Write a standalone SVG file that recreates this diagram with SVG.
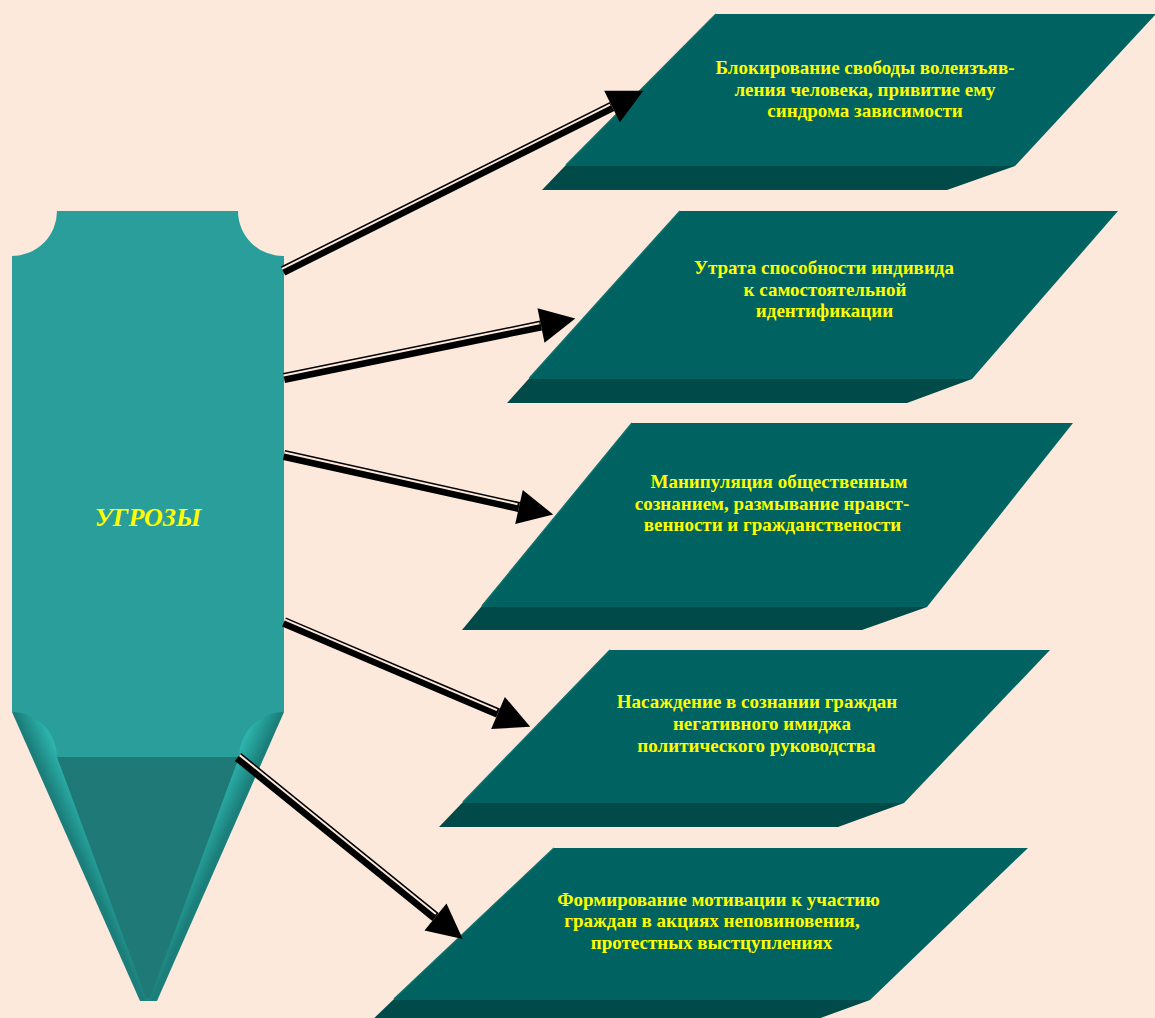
<svg xmlns="http://www.w3.org/2000/svg" width="1155" height="1018" viewBox="0 0 1155 1018">
<defs>
<style>
.bg{fill:#FCE9DC}
.face{fill:#006361}
.edge{fill:none;stroke:#0B726F;stroke-width:1.5}
.strip{fill:#004B4A}
.lbl{font-family:"Liberation Serif","Times New Roman",serif;font-weight:bold;font-size:19px;fill:#FFFF00;text-anchor:middle}
.title{font-family:"Liberation Serif","Times New Roman",serif;font-weight:bold;font-style:italic;font-size:26px;fill:#FFFF00;text-anchor:middle}
.body{fill:#299E9A}
.core{fill:#1F7A77}
.shaft{stroke:#000;stroke-width:10;fill:none}
.gap{stroke:#FCE9DC;stroke-width:2;fill:none}
</style>
<marker id="head" markerUnits="userSpaceOnUse" markerWidth="40" markerHeight="40" refX="0" refY="0" orient="auto" viewBox="0 -20 40 40" overflow="visible">
<path d="M0,-17.5 L35,0 L0,17.5 Z" fill="#000"/>
</marker>
<linearGradient id="gL" gradientUnits="userSpaceOnUse" x1="14" y1="711" x2="34" y2="702">
<stop offset="0" stop-color="#1B7E7A"/>
<stop offset="1" stop-color="#2DB2AC"/>
</linearGradient>
<linearGradient id="gR" gradientUnits="userSpaceOnUse" x1="282" y1="711" x2="262" y2="702">
<stop offset="0" stop-color="#1B7E7A"/>
<stop offset="1" stop-color="#2DB2AC"/>
</linearGradient>
</defs>
<rect class="bg" x="0" y="0" width="1155" height="1018"/>

<g id="node-threats">
<polygon points="12,712 149,712 149,1001 140,1001" fill="url(#gL)"/>
<polygon points="284,712 148,712 148,1001 157,1001" fill="url(#gR)"/>
<path class="body" d="M57,211 L238,211 A45,45 0 0 0 284,256 L284,712 A45,45 0 0 0 239,757 L57,757 A45,45 0 0 0 12,712 L12,256 A45,45 0 0 0 57,211 Z"/>
<polygon class="core" points="57,757 239,757 150,998 146,998"/>
<text class="title" x="148" y="526">УГРОЗЫ</text>
</g>

<g id="node-1">
<polygon class="face" points="716,14 1156,14 1015,166 565,166"/>
<polygon class="strip" points="565,166 1015,166 947,190 542,190"/>
<polyline class="edge" points="566,165 716,14"/>
<text class="lbl"><tspan x="865" y="74">Блокирование свободы волеизъяв-</tspan><tspan x="865" y="95.5">ления человека, привитие ему</tspan><tspan x="865" y="117">синдрома зависимости</tspan></text>
</g>

<g id="node-2">
<polygon class="face" points="680,211 1118,211 972,379 528.6,379"/>
<polygon class="strip" points="528.6,379 972,379 907,403 507,403"/>
<polyline class="edge" points="529.5,378 680,211"/>
<text class="lbl"><tspan x="824" y="274">Утрата способности индивида</tspan><tspan x="825" y="295.5">к самостоятельной</tspan><tspan x="824.5" y="317">идентификации</tspan></text>
</g>

<g id="node-3">
<polygon class="face" points="632,423 1073,423 927,607 481,607"/>
<polygon class="strip" points="481,607 927,607 862,630 462,630"/>
<polyline class="edge" points="482,606 632,423"/>
<text class="lbl"><tspan x="779" y="488">Манипуляция общественным</tspan><tspan x="772" y="510">сознанием, размывание нравст-</tspan><tspan x="772.5" y="531">венности и гражданствености</tspan></text>
</g>

<g id="node-4">
<polygon class="face" points="610,650 1050,650 904,803 462,803"/>
<polygon class="strip" points="462,803 904,803 838,827 439,827"/>
<polyline class="edge" points="463,802 610,650"/>
<text class="lbl"><tspan x="757" y="708">Насаждение в сознании граждан</tspan><tspan x="762" y="730">негативного имиджа</tspan><tspan x="756.5" y="752">политического руководства</tspan></text>
</g>

<g id="node-5">
<polygon class="face" points="554,848 1028,848 870,1000 393,1000"/>
<polygon class="strip" points="393,1000 870,1000 804,1024 368,1024"/>
<polyline class="edge" points="394,999 554,848"/>
<text class="lbl"><tspan x="718.5" y="905.5">Формирование мотивации к участию</tspan><tspan x="712" y="927">граждан в акциях неповиновения,</tspan><tspan x="711.5" y="948.5">протестных выстцуплениях</tspan></text>
</g>

<g id="connectors">
<line class="shaft" x1="283" y1="271" x2="612" y2="106.5" marker-end="url(#head)"/>
<line class="gap" x1="281.9" y1="268.8" x2="610.1" y2="104.7"/>
<line class="shaft" x1="284" y1="378" x2="541" y2="325.5" marker-end="url(#head)"/>
<line class="gap" x1="283.5" y1="375.5" x2="539.5" y2="323.3"/>
<line class="shaft" x1="284" y1="455" x2="519" y2="507" marker-end="url(#head)"/>
<line class="gap" x1="284.5" y1="452.6" x2="517.5" y2="504.2"/>
<line class="shaft" x1="284" y1="622" x2="498" y2="713" marker-end="url(#head)"/>
<line class="gap" x1="285" y1="619.7" x2="497" y2="710.1"/>
<line class="shaft" x1="238" y1="757" x2="435.5" y2="917" marker-end="url(#head)"/>
<line class="gap" x1="239.6" y1="755.1" x2="435.8" y2="914"/>
</g>
</svg>
